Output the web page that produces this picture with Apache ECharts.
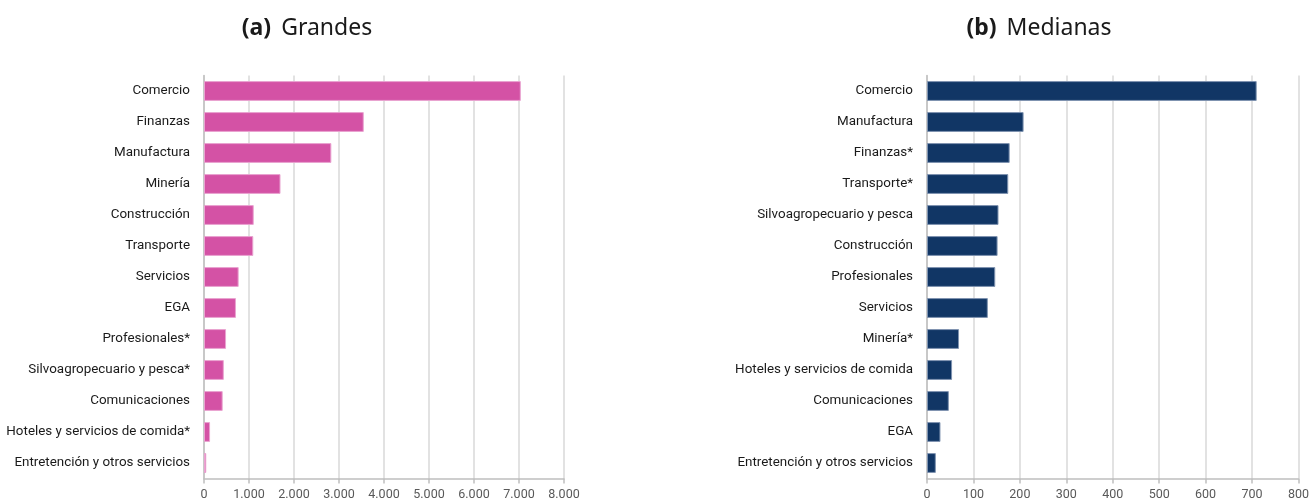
<!DOCTYPE html>
<html>
<head>
<meta charset="utf-8">
<script src="https://cdn.jsdelivr.net/npm/echarts@6/dist/echarts.min.js"></script>
<style>
  html, body { margin: 0; padding: 0; background: #fff; }
  #chart { width: 1312px; height: 502px; }
</style>
</head>
<body>
<div id="chart"></div>
<script>
// Panel (a): large firms
const grandesCategorias = [
  'Comercio', 'Finanzas', 'Manufactura', 'Minería', 'Construcción', 'Transporte',
  'Servicios', 'EGA', 'Profesionales*', 'Silvoagropecuario y pesca*',
  'Comunicaciones', 'Hoteles y servicios de comida*', 'Entretención y otros servicios'
];
const grandesValores = [7040, 3550, 2830, 1700, 1105, 1095, 770, 710, 490, 440, 415, 135, 50];

// Panel (b): medium firms
const medianasCategorias = [
  'Comercio', 'Manufactura', 'Finanzas*', 'Transporte*', 'Silvoagropecuario y pesca',
  'Construcción', 'Profesionales', 'Servicios', 'Minería*', 'Hoteles y servicios de comida',
  'Comunicaciones', 'EGA', 'Entretención y otros servicios'
];
const medianasValores = [710, 208, 178, 175, 154, 152, 147, 131, 69, 54, 47, 29, 19];

const grandesTicks = { min: 0, max: 8000, interval: 1000 };
const medianasTicks = { min: 0, max: 800, interval: 100 };

const FONT = '"Noto Sans", "Open Sans", sans-serif';
const LABEL_FONT = 'Roboto, "Noto Sans", sans-serif';

const fmtMiles = v => v === 0 ? '0' : String(v).replace(/\B(?=(\d{3})+(?!\d))/g, '.');

function valueAxis(gridIndex, ticks, fmt) {
  return {
    type: 'value', gridIndex,
    min: ticks.min, max: ticks.max, interval: ticks.interval,
    axisLine: { show: true, lineStyle: { color: '#bfbfbf', width: 1.5 } },
    axisTick: { show: true, length: 5, lineStyle: { color: '#bfbfbf', width: 1.5 } },
    splitLine: { show: true, lineStyle: { color: '#d9d9d9', width: 1.5 } },
    axisLabel: { color: '#595959', fontSize: 12.5, fontFamily: LABEL_FONT, margin: 10, formatter: fmt }
  };
}

function categoryAxis(gridIndex, cats) {
  return {
    type: 'category', gridIndex, data: cats, inverse: true,
    axisLine: { show: true, lineStyle: { color: '#bfbfbf', width: 1.5 } },
    axisTick: { show: false },
    axisLabel: { color: '#1a1a1a', fontSize: 13.4, fontFamily: LABEL_FONT, margin: 14 }
  };
}

function titleRich(letter, name, x) {
  return {
    text: '{b|' + letter + '}  {r|' + name + '}',
    left: x, top: 12, textAlign: 'center',
    textStyle: {
      fontWeight: 'normal',
      rich: {
        b: { fontFamily: FONT, fontSize: 23, fontWeight: 'bold', color: '#1a1a1a' },
        r: { fontFamily: FONT, fontSize: 23, fontWeight: 'normal', color: '#1a1a1a' }
      }
    }
  };
}

const chart = echarts.init(document.getElementById('chart'), null, { renderer: 'canvas' });
chart.setOption({
  animation: false,
  backgroundColor: '#ffffff',
  title: [titleRich('(a)', 'Grandes', 302), titleRich('(b)', 'Medianas', 1034)],
  grid: [
    { left: 204, width: 360, top: 75.5, height: 403 },
    { left: 927, width: 373, top: 75.5, height: 403 }
  ],
  xAxis: [
    valueAxis(0, grandesTicks, fmtMiles),
    valueAxis(1, medianasTicks, v => String(v))
  ],
  yAxis: [
    categoryAxis(0, grandesCategorias),
    categoryAxis(1, medianasCategorias)
  ],
  series: [
    {
      type: 'bar', xAxisIndex: 0, yAxisIndex: 0, data: grandesValores,
      barWidth: '64%',
      itemStyle: { color: '#D452A5', borderColor: '#E9A3D0', borderWidth: 1 }
    },
    {
      type: 'bar', xAxisIndex: 1, yAxisIndex: 1, data: medianasValores,
      barWidth: '64%',
      itemStyle: { color: '#113665', borderColor: '#7f93b0', borderWidth: 1 }
    }
  ]
});
</script>
</body>
</html>
